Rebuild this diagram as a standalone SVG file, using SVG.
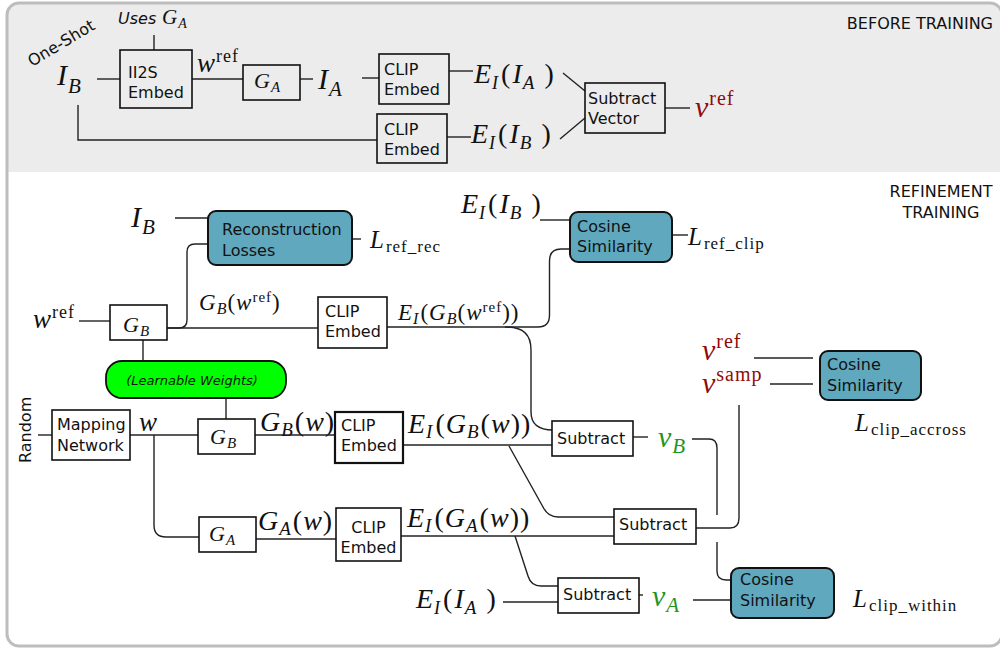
<svg xmlns="http://www.w3.org/2000/svg" width="1000" height="649" viewBox="0 0 1000 649">
<style>
.box{fill:#fff;stroke:#111;stroke-width:1.6}
.tbox{fill:none;stroke:#111;stroke-width:1.6}
.loss{fill:#5fa8be;stroke:#111;stroke-width:2}
.lw{fill:#00ff00;stroke:#111;stroke-width:1.8}
.s{font-family:"DejaVu Sans",Verdana,sans-serif;font-size:16px;fill:#111}
.m{font-family:"Liberation Serif","Times New Roman",serif;fill:#111;letter-spacing:1px}
.i{font-style:italic}
.red{fill:#8f0a0a}
.grn{fill:#1e961e}
.c{fill:none;stroke:#222;stroke-width:1.4}
</style>
<g id="frame">
<path d="M7,172 V15 Q7,3 19,3 H990 Q1002,3 1002,15 V172 Z" fill="#ececec"/>
<rect x="7" y="3" width="995" height="643" rx="12" fill="none" stroke="#bdbdbd" stroke-width="3"/>
<text class="s" x="993" y="29" text-anchor="end">BEFORE TRAINING</text>
<text class="s" x="941" y="197" text-anchor="middle">REFINEMENT</text>
<text class="s" x="941" y="218" text-anchor="middle">TRAINING</text>
</g>
<g id="connectors">
<path class="c" d="M97,79 H120"/>
<path class="c" d="M154,35 V50"/>
<path class="c" d="M192,79 H243"/>
<path class="c" d="M300,79 H313"/>
<path class="c" d="M362,78 H379"/>
<path class="c" d="M78,105 V140 H377"/>
<path class="c" d="M449,71 H473"/>
<path class="c" d="M447,137 H471"/>
<path class="c" d="M563,73 L585,91"/>
<path class="c" d="M560,139 L585,118"/>
<path class="c" d="M665,108 H690"/>
<path class="c" d="M175,218 H208"/>
<path class="c" d="M352,239 H361"/>
<path class="c" d="M167,328 H179 Q187,328 187,320 V252 Q187,244 195,244 H208"/>
<path class="c" d="M167,328 H318"/>
<path class="c" d="M79,321 H110"/>
<path class="c" d="M143,340 V361"/>
<path class="c" d="M387,327 H538 Q549.5,327 549.5,315 V261 Q549.5,249 561,249 H570"/>
<path class="c" d="M505,327 C524,327 531,335 531,350 V412 C531,425 540,430 553,430"/>
<path class="c" d="M540,220 H570"/>
<path class="c" d="M672,235 H688"/>
<path class="c" d="M754,358 H813"/>
<path class="c" d="M770,384 H813"/>
<path class="c" d="M226,398 V419"/>
<path class="c" d="M38,435 H52"/>
<path class="c" d="M130,435 H198"/>
<path class="c" d="M255,435 H335"/>
<path class="c" d="M154,435 V525 Q154,537 166,537 H199"/>
<path class="c" d="M256,539 H336"/>
<path class="c" d="M403,445 H552"/>
<path class="c" d="M509,446 L543,507 Q548,517 558,517 H614"/>
<path class="c" d="M401,536 H614"/>
<path class="c" d="M515,536 L528,576 Q531,586 541,586 H558"/>
<path class="c" d="M503,602 H558"/>
<path class="c" d="M633,437 H648"/>
<path class="c" d="M692,439 H709 Q717,439 717,448 V515"/>
<path class="c" d="M696,528 H730 Q739,528 739,518 V405"/>
<path class="c" d="M717,542 V571 Q717,580 726,580 H731"/>
<path class="c" d="M639,595 H643"/>
<path class="c" d="M693,600 H731"/>
</g>
<g id="top-labels">
<text class="s" transform="translate(32,67) rotate(-31)">One-Shot</text>
<text class="s i" x="118" y="24">Uses</text>
<text class="m" x="162" y="24" font-size="21"><tspan class="i">G</tspan><tspan class="i" font-size="14" dy="4">A</tspan></text>
<text class="m" x="57" y="85" font-size="30"><tspan class="i">I</tspan><tspan class="i" font-size="21" dy="8">B</tspan></text>
<text class="m" x="197" y="72" font-size="27"><tspan class="i">w</tspan><tspan font-size="18" dy="-10">ref</tspan></text>
<text class="m" x="318" y="89" font-size="30"><tspan class="i">I</tspan><tspan class="i" font-size="21" dy="7">A</tspan></text>
<text class="m" x="474" y="83" font-size="28"><tspan class="i">E</tspan><tspan class="i" font-size="18" dy="6">I</tspan><tspan dy="-6" dx="2">(</tspan><tspan class="i" dx="1">I</tspan><tspan class="i" font-size="19" dy="6">A</tspan><tspan dy="-6" dx="9">)</tspan></text>
<text class="m" x="471" y="143" font-size="28"><tspan class="i">E</tspan><tspan class="i" font-size="18" dy="6">I</tspan><tspan dy="-6" dx="2">(</tspan><tspan class="i" dx="1">I</tspan><tspan class="i" font-size="19" dy="6">B</tspan><tspan dy="-6" dx="9">)</tspan></text>
<text class="m red" x="695" y="117" font-size="30"><tspan class="i">v</tspan><tspan font-size="20" dy="-12">ref</tspan></text>
</g>
<g id="ii2s">
<rect class="tbox" x="120" y="50" width="72" height="58"/>
<text class="s" x="128" y="78">II2S</text>
<text class="s" x="128" y="98">Embed</text>
</g>
<g id="ga-top">
<rect class="tbox" x="243" y="65" width="57" height="35"/>
<text class="m" x="254" y="88" font-size="22"><tspan class="i">G</tspan><tspan class="i" font-size="15" dy="4">A</tspan></text>
</g>
<g id="clip-top1">
<rect class="tbox" x="379" y="54" width="70" height="50"/>
<text class="s" x="384" y="75">CLIP</text>
<text class="s" x="384" y="95">Embed</text>
</g>
<g id="clip-top2">
<rect class="tbox" x="377" y="114" width="70" height="49"/>
<text class="s" x="384" y="135">CLIP</text>
<text class="s" x="384" y="155">Embed</text>
</g>
<g id="subtract-vector">
<rect class="tbox" x="585" y="83" width="80" height="50"/>
<text class="s" x="588" y="104">Subtract</text>
<text class="s" x="588" y="124">Vector</text>
</g>
<g id="bottom-labels">
<text class="m" x="131" y="227" font-size="30"><tspan class="i">I</tspan><tspan class="i" font-size="21" dy="7">B</tspan></text>
<text class="m" x="370" y="248" font-size="25"><tspan class="i">L</tspan><tspan font-size="17" dy="4" dx="1">ref_rec</tspan></text>
<text class="m" x="199" y="310" font-size="23"><tspan class="i">G</tspan><tspan class="i" font-size="16" dy="4">B</tspan><tspan dy="-4">(</tspan><tspan class="i">w</tspan><tspan font-size="15" dy="-8">ref</tspan><tspan dy="8">)</tspan></text>
<text class="m" x="398" y="320" font-size="23"><tspan class="i">E</tspan><tspan class="i" font-size="16" dy="4">I</tspan><tspan dy="-4" dx="1">(</tspan><tspan class="i">G</tspan><tspan class="i" font-size="16" dy="4">B</tspan><tspan dy="-4">(</tspan><tspan class="i">w</tspan><tspan font-size="15" dy="-8">ref</tspan><tspan dy="8">))</tspan></text>
<text class="m" x="33" y="328" font-size="27"><tspan class="i">w</tspan><tspan font-size="18" dy="-10">ref</tspan></text>
<text class="m" x="461" y="213" font-size="28"><tspan class="i">E</tspan><tspan class="i" font-size="18" dy="6">I</tspan><tspan dy="-6" dx="2">(</tspan><tspan class="i" dx="1">I</tspan><tspan class="i" font-size="19" dy="6">B</tspan><tspan dy="-6" dx="9">)</tspan></text>
<text class="m" x="688" y="245" font-size="25"><tspan class="i">L</tspan><tspan font-size="17" dy="4" dx="1">ref_clip</tspan></text>
<text class="m red" x="702" y="360" font-size="30"><tspan class="i">v</tspan><tspan font-size="20" dy="-12">ref</tspan></text>
<text class="m red" x="702" y="393" font-size="30"><tspan class="i">v</tspan><tspan font-size="20" dy="-12">samp</tspan></text>
<text class="m" x="855" y="431" font-size="25"><tspan class="i">L</tspan><tspan font-size="17" dy="4" dx="1">clip_accross</tspan></text>
<text class="m" x="139" y="431" font-size="27" font-style="italic">w</text>
<text class="m" x="260" y="431" font-size="28"><tspan class="i">G</tspan><tspan class="i" font-size="19" dy="5">B</tspan><tspan dy="-5" dx="1">(</tspan><tspan class="i">w</tspan>)</text>
<text class="m" x="408" y="433" font-size="28"><tspan class="i">E</tspan><tspan class="i" font-size="19" dy="5">I</tspan><tspan dy="-5" dx="2">(</tspan><tspan class="i">G</tspan><tspan class="i" font-size="19" dy="5">B</tspan><tspan dy="-5" dx="1">(</tspan><tspan class="i">w</tspan>))</text>
<text class="m grn" x="658" y="447" font-size="30"><tspan class="i">v</tspan><tspan class="i" font-size="21" dy="6">B</tspan></text>
<text class="m" x="258" y="530" font-size="28"><tspan class="i">G</tspan><tspan class="i" font-size="19" dy="5">A</tspan><tspan dy="-5" dx="1">(</tspan><tspan class="i">w</tspan>)</text>
<text class="m" x="407" y="527" font-size="28"><tspan class="i">E</tspan><tspan class="i" font-size="19" dy="5">I</tspan><tspan dy="-5" dx="2">(</tspan><tspan class="i">G</tspan><tspan class="i" font-size="19" dy="5">A</tspan><tspan dy="-5" dx="1">(</tspan><tspan class="i">w</tspan>))</text>
<text class="m" x="416" y="608" font-size="28"><tspan class="i">E</tspan><tspan class="i" font-size="18" dy="6">I</tspan><tspan dy="-6" dx="2">(</tspan><tspan class="i" dx="1">I</tspan><tspan class="i" font-size="19" dy="6">A</tspan><tspan dy="-6" dx="9">)</tspan></text>
<text class="m grn" x="652" y="606" font-size="30"><tspan class="i">v</tspan><tspan class="i" font-size="21" dy="6">A</tspan></text>
<text class="m" x="853" y="607" font-size="25"><tspan class="i">L</tspan><tspan font-size="17" dy="4" dx="1">clip_within</tspan></text>
<text class="s" transform="translate(31,463) rotate(-90)">Random</text>
</g>
<g id="recon-losses">
<rect class="loss" x="208" y="211" width="144" height="54" rx="8"/>
<text class="s" x="222" y="235">Reconstruction</text>
<text class="s" x="222" y="256">Losses</text>
</g>
<g id="gb-ref">
<rect class="box" x="110" y="305" width="57" height="35"/>
<text class="m" x="123" y="332" font-size="22"><tspan class="i">G</tspan><tspan class="i" font-size="15" dy="4">B</tspan></text>
</g>
<g id="clip-ref">
<rect class="box" x="318" y="297" width="69" height="51"/>
<text class="s" x="325" y="317">CLIP</text>
<text class="s" x="325" y="337">Embed</text>
</g>
<g id="cosine-ref">
<rect class="loss" x="570" y="212" width="102" height="50" rx="8"/>
<text class="s" x="577" y="232">Cosine</text>
<text class="s" x="577" y="252">Similarity</text>
</g>
<g id="learnable-weights">
<rect class="lw" x="106" y="361" width="180" height="37" rx="16"/>
<text class="s i" x="192" y="385" text-anchor="middle" style="font-size:13px">(Learnable Weights)</text>
</g>
<g id="mapping">
<rect class="box" x="52" y="410" width="78" height="50"/>
<text class="s" x="57" y="430">Mapping</text>
<text class="s" x="57" y="451">Network</text>
</g>
<g id="gb">
<rect class="box" x="198" y="419" width="57" height="35"/>
<text class="m" x="210" y="444" font-size="22"><tspan class="i">G</tspan><tspan class="i" font-size="15" dy="4">B</tspan></text>
</g>
<g id="clip-b">
<rect class="box" x="335" y="412" width="68" height="51" style="stroke-width:2.2"/>
<text class="s" x="341" y="431">CLIP</text>
<text class="s" x="341" y="451">Embed</text>
</g>
<g id="ga">
<rect class="box" x="199" y="517" width="57" height="35"/>
<text class="m" x="209" y="541" font-size="22"><tspan class="i">G</tspan><tspan class="i" font-size="15" dy="4">A</tspan></text>
</g>
<g id="clip-a">
<rect class="box" x="336" y="508" width="65" height="53"/>
<text class="s" x="368.5" y="533" text-anchor="middle">CLIP</text>
<text class="s" x="368.5" y="553" text-anchor="middle">Embed</text>
</g>
<g id="subtract-b">
<rect class="box" x="552" y="421" width="81" height="35"/>
<text class="s" x="557" y="444">Subtract</text>
</g>
<g id="subtract-samp">
<rect class="box" x="614" y="509" width="82" height="35"/>
<text class="s" x="619" y="530">Subtract</text>
</g>
<g id="subtract-a">
<rect class="box" x="558" y="578" width="81" height="35"/>
<text class="s" x="563" y="600">Subtract</text>
</g>
<g id="cosine-across">
<rect class="loss" x="820" y="351" width="101" height="49" rx="8"/>
<text class="s" x="827" y="370">Cosine</text>
<text class="s" x="827" y="391">Similarity</text>
</g>
<g id="cosine-within">
<rect class="loss" x="731" y="568" width="103" height="50" rx="8"/>
<text class="s" x="740" y="585">Cosine</text>
<text class="s" x="740" y="606">Similarity</text>
</g>
</svg>
